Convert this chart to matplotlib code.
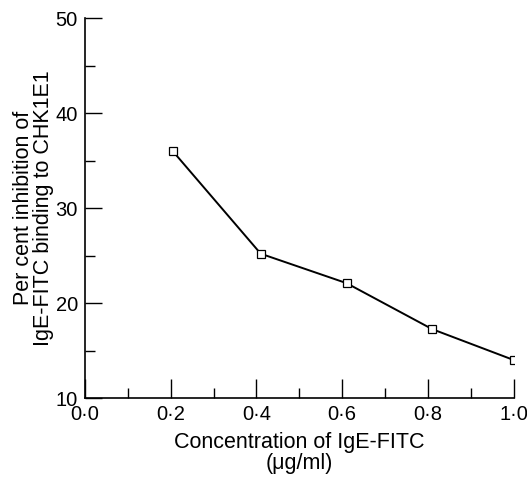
import matplotlib
matplotlib.use("Agg")
import matplotlib.pyplot as plt
from matplotlib.ticker import MultipleLocator, FuncFormatter

plt.rcParams['font.family'] = ['Liberation Sans', 'DejaVu Sans']

conc = [0.205, 0.41, 0.61, 0.81, 1.0]
inhibition = [36.0, 25.2, 22.1, 17.25, 14.0]

fig = plt.figure(figsize=(5.27, 4.79), dpi=100)
ax = fig.add_axes([0.161, 0.169, 0.814, 0.793])

ax.plot(conc, inhibition, color='black', linewidth=1.4,
        marker='s', markersize=6, markerfacecolor='white',
        markeredgecolor='black', markeredgewidth=0.9)

ax.set_xlim(0, 1.0)
ax.set_ylim(10, 50)
ax.xaxis.set_major_locator(MultipleLocator(0.2))
ax.xaxis.set_minor_locator(MultipleLocator(0.1))
ax.yaxis.set_major_locator(MultipleLocator(10))
ax.yaxis.set_minor_locator(MultipleLocator(5))
ax.xaxis.set_major_formatter(FuncFormatter(lambda v, p: f"{v:.1f}".replace('.', '\u00b7')))

for side in ('top', 'right'):
    ax.spines[side].set_visible(False)
for side in ('left', 'bottom'):
    ax.spines[side].set_linewidth(1.2)

ax.tick_params(which='both', direction='in', width=1.0, labelsize=14.5)
ax.tick_params(axis='x', which='major', length=14, pad=5)
ax.tick_params(axis='y', which='major', length=12, pad=5)
ax.tick_params(which='minor', length=7)

ax.set_xlabel('Concentration of IgE-FITC\n(\u03bcg/ml)', fontsize=15.5,
              linespacing=0.95, labelpad=6)
ax.set_ylabel('Per cent inhibition of\nIgE-FITC binding to CHK1E1', fontsize=15.5,
              linespacing=0.95, labelpad=1)

fig.savefig('out.png', dpi=100)
